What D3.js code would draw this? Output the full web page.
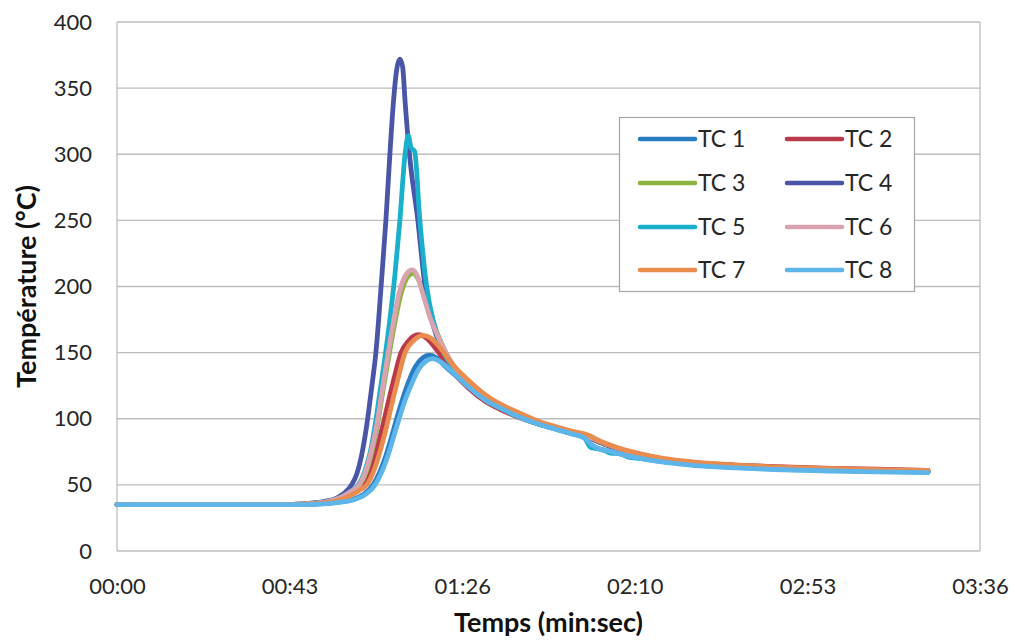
<!DOCTYPE html>
<html>
<head>
<meta charset="utf-8">
<script src="https://cdn.jsdelivr.net/npm/d3@7"></script>
<style>
  html, body { margin: 0; padding: 0; background: #fff; }
  svg { display: block; }
</style>
</head>
<body>
<svg id="chart" width="1016" height="643"></svg>
<script>
// ---- Data (time in seconds, temperature in °C) ----
const seriesNames = ["TC 1", "TC 2", "TC 3", "TC 4", "TC 5", "TC 6", "TC 7", "TC 8"];
const seriesColors = ["#2A7DC0", "#B83A4B", "#8DB43F", "#4A55A8", "#1AAFCB", "#D9A3B0", "#E98C4E", "#5DB5EA"];

const tc1 = [[0,35],[44,35],[50,35.5],[55,36.8],[59,39],[61.8,43],[64.1,50],[65.8,60],[67.3,72],[68.7,86],[70,100],[71.5,115],[73,128],[74.6,139],[76.5,146],[78.2,148],[80,146],[82,140],[85,132],[88,124],[92.5,114],[96,108.5],[101,101.5],[106,96],[110,92.5],[114,89],[117,86],[118.5,79.5],[121,77],[123,75.5],[126,73.5],[128,71.5],[131,70.2],[135,68.5],[139,67],[146,65],[155,63.5],[163,62.5],[179,61.2],[190,60.5],[203,59.8]];
const tc2 = [[0,35],[44,35.2],[49,36],[54,38],[57.5,42],[59.8,46],[61.6,50],[63.2,60],[64.8,75],[66.3,92],[67.7,110],[69.3,130],[71.1,150],[73,159],[75.4,163.5],[77,162],[79,156],[81,148],[84,136],[88,123],[92.5,112.5],[96,107],[101,100.5],[106,95.5],[110,92.5],[114,89.5],[118,86],[121,82],[125,77.5],[129,74],[134,71],[139,68.5],[146,66.5],[155,65],[163,64],[179,62.5],[190,61.8],[203,61]];
const tc3 = [[0,35],[44,35.2],[49,36],[53,37.5],[56,40.5],[58.6,45],[60.8,50],[62.4,60],[63.8,75],[65.2,95],[66.5,120],[68.1,148],[69.5,172],[70.8,191],[72,203],[73.3,209],[74.2,210],[75.3,206],[76.7,196],[78.3,181],[80.5,162],[83,146],[85,137],[88,126],[92.5,115],[96,109],[101,102],[106,96.5],[110,93],[114,89.5],[118,86.5],[121,82],[125,77.5],[129,74],[134,71],[139,68],[146,66],[155,64],[163,63],[179,61.8],[190,61],[203,60.3]];
const tc4 = [[0,35],[44,35.3],[48,36],[52,37.5],[55,40],[57,44],[58.7,50],[60,58],[61.2,72],[62.5,95],[63.8,125],[64.8,150],[66.1,200],[67.3,250],[68.3,300],[69.2,340],[70,364],[70.8,372],[71.5,366],[72.1,340],[73.2,300],[75.3,250],[77.1,200],[79,172],[81,155],[83.5,143],[86,132],[88,125],[92.5,114.5],[96,108.5],[101,101.5],[106,96],[110,92.5],[114,89],[118,86],[121,82],[125,77.5],[129,74],[134,71],[139,68],[146,66],[155,64],[163,63],[179,61.5],[190,60.8],[203,60]];
const tc5 = [[0,35],[44,35.2],[49,36],[53,37.5],[56,40.5],[58.5,45],[60.4,50],[62,60],[63.4,75],[64.6,95],[65.8,120],[67,145],[68.3,175],[69.6,210],[70.8,250],[72.1,300],[72.9,314],[73.6,305],[74.5,302],[75.8,250],[77.5,200],[79.5,170],[81.5,152],[84,139],[86,131],[88,124.5],[92.5,114],[96,108],[101,101],[106,95.5],[110,92],[114,88.5],[117,85.5],[118.5,78.5],[120,77.5],[122,76],[123.5,74],[126,73.5],[128,71],[131,70],[135,68.2],[139,66.8],[146,64.8],[155,63.2],[163,62.3],[179,61],[190,60.3],[203,59.6]];
const tc6 = [[0,35],[44,35.2],[49,36],[53,37.5],[56,40.5],[58.5,45],[60.6,50],[62.2,60],[63.6,75],[65,95],[66.3,120],[67.9,150],[69.3,175],[70.6,195],[71.8,206],[73,211.5],[73.8,212.5],[75,209],[76.6,194],[78.3,177],[80.9,159],[83.4,144],[86,133],[88,126],[92.5,115],[96,109],[101,102],[106,96.5],[110,93],[114,89.5],[118,86.5],[121,82.5],[125,78],[129,74.5],[134,71],[139,68.5],[146,66.3],[155,64.5],[163,63.3],[179,62],[190,61.2],[203,60.5]];
const tc7 = [[0,35],[44,35.2],[50,36],[55,38],[58.5,42],[60.7,46],[62.5,50],[64.2,60],[65.8,75],[67.3,92],[68.7,110],[70.3,130],[72.1,150],[74.2,159],[76.5,163],[78.5,161],[80.5,155],[84,141],[88,129],[92.5,117.5],[96,111],[101,104],[106,97.5],[110,94],[114,90.5],[118,87.5],[121,83],[125,78.5],[129,75],[134,71.5],[139,69],[146,66.8],[155,65],[163,63.8],[179,62.3],[190,61.5],[203,60.8]];
const tc8 = [[0,35],[44,35],[50,35.4],[55,36.6],[59.5,39],[62.3,43],[64.6,50],[66.3,60],[67.8,72],[69.2,86],[70.6,100],[72.1,114],[73.7,126],[75.4,137],[77.3,143.5],[79,145.5],[81,143],[83,138],[85.5,131],[88,124],[92.5,113.5],[96,108],[101,101],[106,95.5],[110,92],[114,88.5],[117,85.5],[119,80],[121,77],[124,75],[127,72.5],[131,70],[135,68],[139,66.5],[146,64.3],[155,62.8],[163,61.8],[179,60.5],[190,59.8],[203,59.2]];
const seriesData = [tc1, tc2, tc3, tc4, tc5, tc6, tc7, tc8];

const yTicks = [0, 50, 100, 150, 200, 250, 300, 350, 400];
const xTickSeconds = [0, 43.2, 86.4, 129.6, 172.8, 216];
const xTickLabels = ["00:00", "00:43", "01:26", "02:10", "02:53", "03:36"];

// ---- Layout ----
const svg = d3.select("#chart");
const plotLeft = 117, plotRight = 980, plotTop = 22, plotBottom = 551;
const x = d3.scaleLinear().domain([0, 216]).range([plotLeft, plotRight]);
const y = d3.scaleLinear().domain([0, 400]).range([plotBottom, plotTop]);
const font = "Lato, 'Open Sans', sans-serif";
const textColor = "#262626";
const gridColor = "#BDBDBD";

// Gridlines
svg.append("g").selectAll("line").data(yTicks).join("line")
  .attr("x1", plotLeft).attr("x2", plotRight)
  .attr("y1", d => y(d)).attr("y2", d => y(d))
  .attr("stroke", gridColor).attr("stroke-width", 1.3);

// Plot border (left and right edges)
svg.append("line").attr("x1", plotLeft).attr("x2", plotLeft).attr("y1", plotTop).attr("y2", plotBottom)
  .attr("stroke", gridColor).attr("stroke-width", 1.3);
svg.append("line").attr("x1", plotRight).attr("x2", plotRight).attr("y1", plotTop).attr("y2", plotBottom)
  .attr("stroke", gridColor).attr("stroke-width", 1.3);

// Y axis
const yAxis = svg.append("g").attr("transform", `translate(${plotLeft},0)`)
  .call(d3.axisLeft(y).tickValues(yTicks).tickSize(0).tickPadding(25));
yAxis.select(".domain").remove();
yAxis.selectAll("text").attr("font-family", font).attr("font-size", 22).attr("fill", textColor);

// X axis
const xAxis = svg.append("g").attr("transform", `translate(0,${plotBottom})`)
  .call(d3.axisBottom(x).tickValues(xTickSeconds).tickSize(0).tickPadding(27)
    .tickFormat((d, i) => xTickLabels[i]));
xAxis.select(".domain").remove();
xAxis.selectAll("text").attr("font-family", font).attr("font-size", 22).attr("fill", textColor);

// Axis titles
svg.append("text")
  .attr("transform", `translate(36,${(plotTop + plotBottom) / 2}) rotate(-90)`)
  .attr("text-anchor", "middle")
  .attr("font-family", font).attr("font-weight", "bold").attr("font-size", 27)
  .attr("fill", "#111").text("Température (°C)");
svg.append("text")
  .attr("x", (plotLeft + plotRight) / 2).attr("y", 632)
  .attr("text-anchor", "middle")
  .attr("font-family", font).attr("font-weight", "bold").attr("font-size", 27)
  .attr("fill", "#111").text("Temps (min:sec)");

// Lines
const line = d3.line().x(d => x(d[0])).y(d => y(d[1])).curve(d3.curveMonotoneX);
svg.append("g").selectAll("path").data(seriesData).join("path")
  .attr("d", line)
  .attr("fill", "none")
  .attr("stroke", (d, i) => seriesColors[i])
  .attr("stroke-width", 4.8)
  .attr("stroke-linejoin", "round")
  .attr("stroke-linecap", "round");

// Legend
const lg = svg.append("g");
lg.append("rect").attr("x", 619.5).attr("y", 117.5).attr("width", 295).attr("height", 174)
  .attr("fill", "#fff").attr("stroke", "#A6A6A6").attr("stroke-width", 1.2);
const rowY = [139, 183, 227, 270];
const colLineX = [640, 787];
const items = lg.selectAll("g.item").data(seriesNames).join("g").attr("class", "item")
  .attr("transform", (d, i) => `translate(${colLineX[i % 2]},${rowY[Math.floor(i / 2)]})`);
items.append("line").attr("x1", 0).attr("x2", 55).attr("y1", 0).attr("y2", 0)
  .attr("stroke", (d, i) => seriesColors[i]).attr("stroke-width", 4.5).attr("stroke-linecap", "round");
items.append("text").attr("x", 58).attr("y", 0).attr("dy", "0.36em")
  .attr("font-family", font).attr("font-size", 23).attr("fill", textColor).text(d => d);
</script>
</body>
</html>
